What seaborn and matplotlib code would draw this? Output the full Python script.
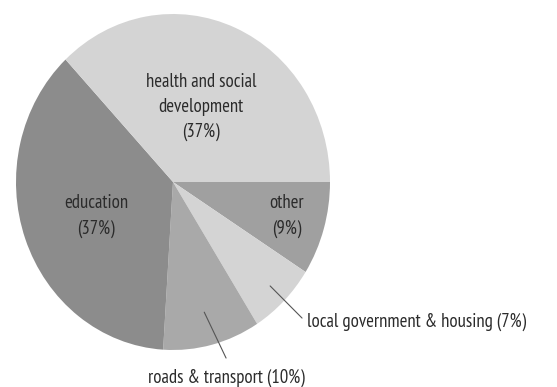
import numpy as np
import matplotlib
matplotlib.use("Agg")
import matplotlib.pyplot as plt
import seaborn as sns

# Spending shares, listed clockwise from the east
categories = ["other", "local government & housing", "roads & transport",
              "education", "health and social\ndevelopment"]
shares = [9, 7, 10, 37, 37]
slice_colors = ["#a0a0a0", "#d4d4d4", "#a9a9a9", "#8c8c8c", "#d4d4d4"]

sns.set_theme(style="white")
plt.rcParams["font.family"] = ["PT Sans Narrow", "DejaVu Sans"]

W, H = 557, 387
fig = plt.figure(figsize=(W / 100, H / 100), dpi=100)
cx, cy, rx, ry = 173, 182, 157, 168
ax = fig.add_axes([(cx - rx) / W, (H - cy - ry) / H, 2 * rx / W, 2 * ry / H])

wedges, _ = ax.pie(shares, colors=slice_colors, startangle=0,
                   counterclock=False, wedgeprops=dict(linewidth=0))
ax.set_aspect("auto")
ax.set_xlim(-1, 1)
ax.set_ylim(-1, 1)
ax.axis("off")

txt = dict(color="#2b2b2b", fontsize=13.5, fontweight="normal",
           ha="center", va="center", linespacing=1.5)

def label(i):
    return f"{categories[i]}\n({shares[i]}%)"

ax.text(0.178, 0.446, label(4), **txt)
ax.text(-0.49, -0.202, label(3), **txt)
ax.text(0.726, -0.202, label(0), **txt)

def mid_point(w, r):
    a = np.deg2rad((w.theta1 + w.theta2) / 2)
    return r * np.cos(a), r * np.sin(a)

# leader lines for the two small outside-labelled slices
x0, y0 = mid_point(wedges[1], 0.875)
ax.plot([x0, 0.822], [y0, -0.81], color="#555555", lw=0.8, clip_on=False)
ax.text(0.855, -0.833, f"{categories[1]} ({shares[1]}%)",
        **{**txt, "ha": "left"})

x0, y0 = mid_point(wedges[2], 0.80)
ax.plot([x0, 0.338], [y0, -1.048], color="#555555", lw=0.8, clip_on=False)
ax.text(0.338, -1.167, f"{categories[2]} ({shares[2]}%)", **txt)

fig.savefig("out.png", dpi=100, facecolor="white")
